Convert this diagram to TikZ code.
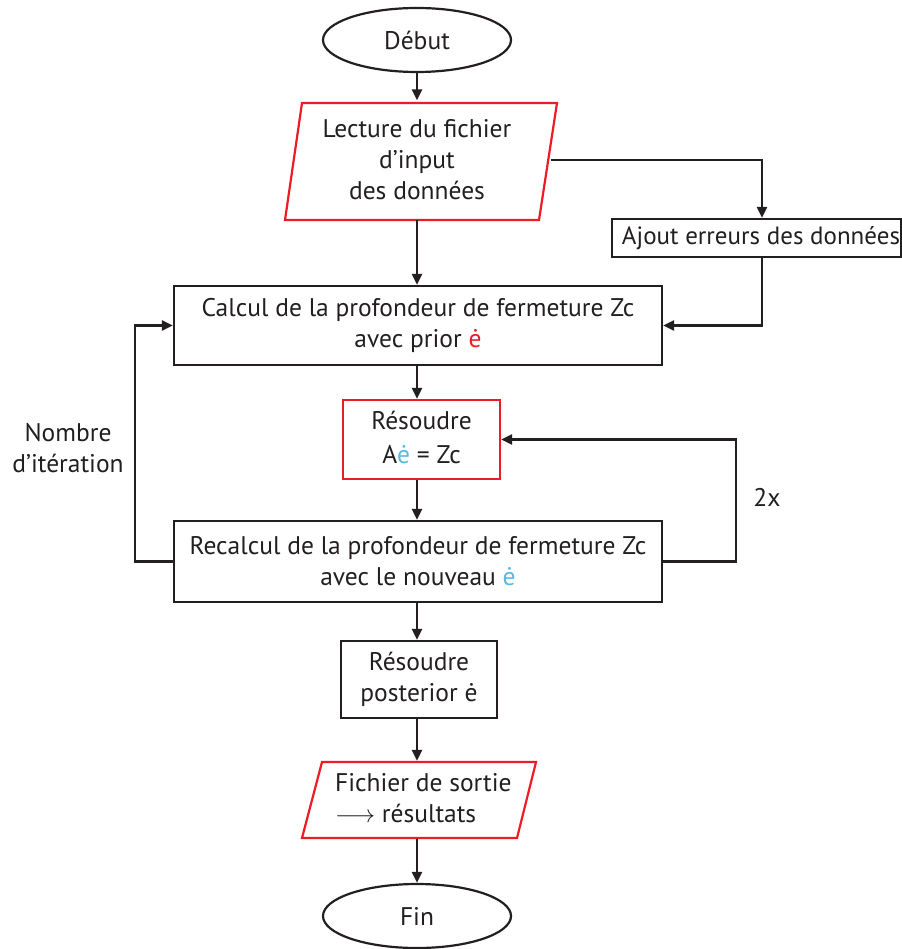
\documentclass[tikz,border=0pt]{standalone}
\usepackage{fontspec}
\setmainfont{PT Sans}
\usetikzlibrary{arrows.meta,shapes.geometric,calc}
\definecolor{ink}{RGB}{35,31,32}
\definecolor{rd}{RGB}{237,28,36}
\definecolor{bl}{RGB}{90,185,225}
\begin{document}
\begin{tikzpicture}[x=1pt,y=-1pt, line width=2.2pt, draw=ink, text=ink,
 every node/.style={font=\fontsize{25.5}{31}\selectfont, align=center, inner sep=0pt, text=ink},
 box/.style={draw=ink, rectangle},
 redbox/.style={draw=rd, rectangle},
 term/.style={draw=ink, ellipse, minimum width=188pt, minimum height=64pt},
 arr/.style={draw=ink, -{Triangle[width=10pt,length=11pt]}},
 ]
\useasboundingbox (0,0) rectangle (901,949);
% shapes
\node[term] (deb) at (417,40) {Début};
\draw[rd] (302,103) -- (557,103) -- (539,220) -- (285,220) -- cycle;
\node[minimum width=250pt, minimum height=117pt] (lect) at (417,160) {Lecture du fichier\\d’input\\des données};
\coordinate (lectR) at (551,160);
\coordinate (ajx) at (762,0);
\node[box, minimum width=289pt, minimum height=38pt] (ajout) at (756.5,238) {};
\node[font=\fontsize{25}{31}\selectfont] (ajtxt) at (761,238) {Ajout erreurs des données};
\node[box, minimum width=488pt, minimum height=79pt] (calc) at (418,325.5) {Calcul de la profondeur de fermeture Zc\\avec prior \textcolor{rd}{ė}};
\node[redbox, minimum width=157pt, minimum height=79pt] (res) at (421.5,439.5) {};
\node (restxt) at (421.5,437) {Résoudre\\[3pt]A\textcolor{bl}{ė} = Zc};
\node[box, minimum width=488pt, minimum height=81pt] (recalc) at (418,561.5) {Recalcul de la profondeur de fermeture Zc\\avec le nouveau \textcolor{bl}{ė}};
\node[box, minimum width=156pt, minimum height=77pt] (post) at (419,679.5) {Résoudre\\posterior ė};
\draw[rd] (322,762) -- (536,762) -- (517,838) -- (302,838) -- cycle;
\node[minimum width=200pt, minimum height=76pt] (fich) at (419,800) {};
\node[align=left, anchor=west] (fichtxt) at (334,798) {Fichier de sortie\\$\longrightarrow$ résultats};
\node[term] (fin) at (417,916) {Fin};
\node (nb) at (68,448) {Nombre\\d’itération};
\node (two) at (767,497) {2x};
% connectors
\draw[arr] (deb.south) -- (lect.north);
\draw[arr] (lect.south) -- (calc.north -| lect.south);
\draw[arr] (lectR) -| (ajout.north -| ajx);
\draw[arr] (ajout.south -| ajx) |- (calc.east);
\draw[arr] (calc.south -| lect.south) -- (res.north -| lect.south);
\draw[arr] (res.south -| lect.south) -- (recalc.north -| lect.south);
\draw[arr] (recalc.east) -- ++(73,0) |- (res.east);
\draw[arr] (recalc.west) -- ++(-38,0) |- (calc.west);
\draw[arr] (recalc.south -| lect.south) -- (post.north -| lect.south);
\draw[arr] (post.south -| lect.south) -- (fich.north -| lect.south);
\draw[arr] (fich.south -| lect.south) -- (fin.north);
\end{tikzpicture}
\end{document}
